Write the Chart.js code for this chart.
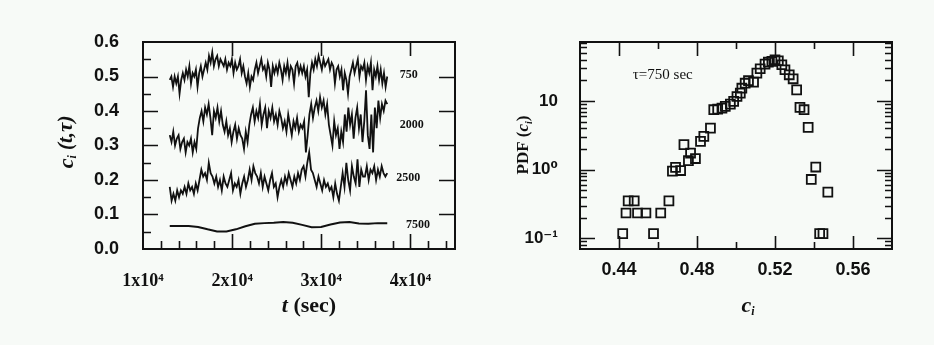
<!DOCTYPE html>
<html>
<head>
<meta charset="utf-8">
<script src="https://cdn.jsdelivr.net/npm/chart.js@4.4.1/dist/chart.umd.min.js"></script>
<style>
  html, body { margin: 0; padding: 0; background: #f7faf7; }
  #wrap { position: relative; width: 934px; height: 345px; overflow: hidden; background: #f7faf7; }
  canvas { position: absolute; top: 0; }
  #izq { left: 0; }
  #der { left: 480px; }
</style>
</head>
<body>
<div id="wrap">
  <canvas id="izq" width="480" height="345"></canvas>
  <canvas id="der" width="454" height="345"></canvas>
</div>
<script>
// ---- datos panel izquierdo: c_i(t, tau) ----
const tauLabels = ['750', '2000', '2500', '7500'];
const tFirst = 13000, tLast = 37400;
const c750 = [0.49,0.50,0.47,0.50,0.48,0.50,0.45,0.49,
  0.51,0.49,0.52,0.50,0.53,0.48,0.51,0.50,0.52,0.47,0.51,0.53,0.50,0.52,
  0.54,0.52,0.56,0.54,0.57,0.53,0.55,0.56,0.53,0.55,0.54,
  0.53,0.55,0.52,0.54,0.53,0.55,0.51,0.54,0.52,0.53,0.55,0.51,0.53,
  0.50,0.48,0.51,0.47,0.50,0.49,
  0.52,0.54,0.51,0.53,0.55,0.52,0.53,0.50,0.54,0.52,0.47,0.53,0.51,
  0.53,0.51,0.54,0.52,0.49,0.53,0.51,0.54,0.50,0.53,0.52,0.48,0.53,0.54,0.51,0.53,
  0.51,0.53,0.50,0.52,0.44,0.51,
  0.54,0.52,0.55,0.53,0.56,0.54,0.52,0.55,0.53,0.54,0.55,0.52,0.54,0.53,0.48,0.52,
  0.53,0.50,0.52,0.46,0.51,0.49,0.45,0.50,
  0.52,0.54,0.51,0.53,0.55,0.50,0.53,0.52,0.54,0.49,0.53,0.51,0.54,
  0.46,0.52,0.50,0.53,0.49,0.52,0.48,0.51,0.47,0.50];
const c2000 = [0.33,0.31,0.34,0.30,0.32,0.33,0.29,0.31,0.32,0.28,0.31,0.30,0.32,0.28,0.31,0.29,
  0.35,0.38,0.40,0.37,0.41,0.39,0.42,0.38,0.33,0.40,0.38,0.41,0.37,0.40,
  0.36,0.34,0.37,0.33,0.35,0.31,0.34,0.36,0.32,0.35,0.33,
  0.32,0.29,0.34,0.31,0.36,
  0.39,0.41,0.37,0.40,0.38,0.42,0.36,0.39,0.41,0.35,0.40,0.38,0.41,0.37,0.39,0.36,0.40,
  0.38,0.35,0.37,0.34,0.39,0.36,0.33,0.37,0.35,0.38,0.34,0.36,0.35,0.37,
  0.28,0.33,
  0.39,0.42,0.38,0.41,0.43,0.40,0.44,0.41,0.43,0.39,0.42,
  0.36,0.33,0.30,0.37,0.33,0.35,0.29,0.34,0.31,
  0.39,0.34,0.41,0.36,0.39,0.32,0.38,0.41,0.35,0.39,0.31,0.37,
  0.46,0.33,0.29,0.39,0.28,0.41,0.35,0.43,0.38,0.42,0.40,0.43,0.42];
const c2500 = [0.18,0.14,0.16,0.14,0.17,0.15,0.17,0.16,
  0.18,0.16,0.19,0.17,0.18,0.16,0.19,0.17,
  0.20,0.23,0.21,0.22,0.20,0.25,0.22,0.21,
  0.19,0.21,0.18,0.20,0.17,0.21,0.19,0.18,0.20,0.22,0.17,0.19,0.18,0.20,0.16,0.19,0.21,0.18,0.20,
  0.23,0.20,0.24,0.22,0.21,
  0.19,0.22,0.18,0.21,0.19,0.17,0.20,0.22,0.18,0.19,0.15,0.18,
  0.20,0.18,0.21,0.19,0.22,0.20,0.18,0.21,0.19,0.22,0.20,0.23,
  0.24,0.21,0.25,0.28,0.23,0.22,
  0.20,0.18,0.21,0.19,0.17,0.20,0.18,0.19,0.17,0.18,
  0.15,0.19,0.16,0.14,0.18,
  0.22,0.18,0.25,0.20,0.17,0.24,0.21,0.19,0.26,0.18,0.23,0.21,
  0.21,0.24,0.20,0.23,0.22,0.24,0.20,0.23,0.21,0.24,0.22,0.21,0.22];
const c7500 = [0.067,0.067,0.067,0.064,0.057,0.051,0.051,0.057,0.066,0.073,0.075,0.076,
  0.078,0.076,0.070,0.063,0.064,0.071,0.077,0.078,0.074,0.073,0.075,0.075];
const leftXTicks = [10000, 20000, 30000, 40000];
const leftXTickLabels = ['1x10⁴', '2x10⁴', '3x10⁴', '4x10⁴'];
const leftYTicks = [0, 0.1, 0.2, 0.3, 0.4, 0.5, 0.6];

// ---- datos panel derecho: PDF(c_i), tau = 750 s ----
const pdfC = [0.4419,0.4436,0.4447,0.4478,0.4495,0.4538,0.4577,0.4614,0.4656,0.4674,0.4690,0.4716,
  0.4733,0.4756,0.4767,0.4792,0.4818,0.4835,0.4869,0.4886,0.4906,0.4928,0.4945,0.4971,0.4988,
  0.5005,0.5022,0.5030,0.5047,0.5064,0.5090,0.5107,0.5124,0.5149,0.5166,0.5184,0.5200,0.5217,
  0.5235,0.5251,0.5273,0.5293,0.5311,0.5328,0.5349,0.5370,0.5386,0.5409,0.5429,0.5446,0.5471];
const pdfVal = [0.117,0.234,0.351,0.351,0.234,0.234,0.117,0.234,0.351,0.95,1.08,0.97,
  2.31,1.35,1.74,1.45,2.58,3.05,4.02,7.45,7.6,7.86,8.32,8.98,9.84,
  11.6,13.0,15.3,18.1,19.7,18.8,25.4,29.4,34.3,36.6,37.5,39.7,38.4,
  33.6,28.4,24.0,21.0,14.5,8.05,7.45,4.12,0.72,1.09,0.117,0.117,0.47];
const rightXTicks = [0.44, 0.48, 0.52, 0.56];
const rightYTicks = [0.1, 1, 10];
const rightYTickLabels = ['10⁻¹', '10⁰', '10'];

const tinta = '#111';
const serif = "'Liberation Serif', 'DejaVu Serif', serif";
const sans = "'Liberation Sans', 'DejaVu Sans', sans-serif";

function aPuntos(vals) {
  const paso = (tLast - tFirst) / (vals.length - 1);
  return vals.map((v, i) => ({x: tFirst + i * paso, y: v}));
}

// marco completo con marcas hacia adentro
const marco = {
  id: 'marco',
  afterDatasetsDraw(chart, args, opts) {
    const {ctx, chartArea: a, scales} = chart;
    ctx.save();
    ctx.strokeStyle = tinta;
    ctx.lineWidth = 1.6;
    ctx.beginPath();
    (opts.x || []).forEach(t => {
      const px = Math.round(scales.x.getPixelForValue(t.v)) + 0.5;
      if (t.bottom) { ctx.moveTo(px, a.bottom); ctx.lineTo(px, a.bottom - t.bottom); }
      if (t.top) { ctx.moveTo(px, a.top); ctx.lineTo(px, a.top + t.top); }
    });
    (opts.y || []).forEach(t => {
      const py = Math.round(scales.y.getPixelForValue(t.v)) + 0.5;
      if (t.left) { ctx.moveTo(a.left, py); ctx.lineTo(a.left + t.left, py); }
      if (t.right) { ctx.moveTo(a.right, py); ctx.lineTo(a.right - t.right, py); }
    });
    ctx.stroke();
    ctx.lineWidth = 2;
    ctx.strokeRect(a.left, a.top, a.right - a.left, a.bottom - a.top);
    ctx.restore();
  }
};

// texto con partes (cursiva, subindice)
function textoRico(ctx, partes, cx, cy, rot) {
  ctx.save();
  ctx.translate(cx, cy);
  if (rot) ctx.rotate(rot);
  let ancho = 0;
  partes.forEach(p => { ctx.font = p.f; ancho += ctx.measureText(p.t).width; });
  let x = -ancho / 2;
  ctx.fillStyle = tinta;
  ctx.textBaseline = 'middle';
  ctx.textAlign = 'left';
  partes.forEach(p => {
    ctx.font = p.f;
    ctx.fillText(p.t, x, p.dy || 0);
    x += ctx.measureText(p.t).width;
  });
  ctx.restore();
}

const textos = {
  id: 'textos',
  afterDraw(chart, args, opts) {
    const {ctx, scales} = chart;
    (opts.rich || []).forEach(r => textoRico(ctx, r.partes, r.x, r.y, r.rot));
    (opts.notas || []).forEach(n => {
      ctx.save();
      ctx.font = n.f;
      ctx.fillStyle = tinta;
      ctx.textAlign = 'left';
      ctx.textBaseline = 'middle';
      ctx.fillText(n.t, scales.x.getPixelForValue(n.x), scales.y.getPixelForValue(n.y));
      ctx.restore();
    });
  }
};

// marcas panel izquierdo
const izqX = [];
for (let v = 12000; v <= 44000; v += 2000) {
  const mayor = v % 10000 === 0;
  izqX.push({v, bottom: mayor ? 15 : 8, top: mayor ? 14 : 0});
}
const izqY = [];
for (let i = 1; i < 12; i++) {
  const mayor = i % 2 === 0;
  izqY.push({v: i * 0.05, left: mayor ? 15 : 8, right: mayor ? 16 : 0});
}

new Chart(document.getElementById('izq'), {
  type: 'line',
  data: {
    datasets: [c750, c2000, c2500, c7500].map((serie, k) => ({
      label: tauLabels[k],
      data: aPuntos(serie),
      borderColor: tinta,
      borderWidth: k === 3 ? 2 : 1.8,
      pointRadius: 0,
      tension: 0,
      fill: false
    }))
  },
  options: {
    responsive: false,
    animation: false,
    devicePixelRatio: 1,
    layout: {padding: {top: 42, right: 25, left: 0, bottom: 0}},
    plugins: {
      legend: {display: false},
      tooltip: {enabled: false},
      marco: {x: izqX, y: izqY},
      textos: {
        rich: [
          {x: 67, y: 142, rot: -Math.PI / 2, partes: [
            {t: 'c', f: `italic bold 22px ${serif}`},
            {t: 'i', f: `italic bold 12px ${serif}`, dy: 6},
            {t: ' (t,τ)', f: `italic bold 21px ${serif}`}]},
          {x: 309, y: 306, partes: [
            {t: 't', f: `italic bold 22px ${serif}`},
            {t: ' (sec)', f: `bold 22px ${serif}`}]}
        ],
        notas: [
          {t: tauLabels[0], x: 38800, y: 0.504, f: `bold 12px ${serif}`},
          {t: tauLabels[1], x: 38800, y: 0.359, f: `bold 12px ${serif}`},
          {t: tauLabels[2], x: 38400, y: 0.206, f: `bold 12px ${serif}`},
          {t: tauLabels[3], x: 39500, y: 0.070, f: `bold 12px ${serif}`}
        ]
      }
    },
    scales: {
      x: {
        type: 'linear', min: 10000, max: 45000,
        grid: {display: false}, border: {display: false},
        afterBuildTicks: s => { s.ticks = leftXTicks.map(v => ({value: v})); },
        afterFit: s => { s.height = 96; },
        ticks: {
          padding: 14, maxRotation: 0, color: tinta,
          font: {family: serif, size: 18, weight: 'bold'},
          callback: (v, i) => leftXTickLabels[i]
        }
      },
      y: {
        min: 0, max: 0.6,
        grid: {display: false}, border: {display: false},
        afterBuildTicks: s => { s.ticks = leftYTicks.map(v => ({value: v})); },
        afterFit: s => { s.width = 143; },
        ticks: {
          padding: 16, color: tinta,
          font: {family: sans, size: 18, weight: 'bold'},
          callback: v => v.toFixed(1)
        }
      }
    }
  },
  plugins: [marco, textos]
});

// marcas panel derecho
const derX = [];
for (let i = 1; i < 8; i++) {
  const mayor = i % 2 === 1;
  derX.push({v: 0.42 + i * 0.02, bottom: mayor ? 13 : 7, top: mayor ? 14 : 7});
}
const derY = [];
for (let k = -2; k <= 1; k++) {
  for (let m = 1; m <= 9; m++) {
    const v = m * Math.pow(10, k);
    if (v > 0.07 && v < 72) derY.push({v, left: m === 1 ? 15 : 7, right: m === 1 ? 15 : 7});
  }
}

new Chart(document.getElementById('der'), {
  type: 'scatter',
  data: {
    datasets: [{
      label: 'PDF',
      data: pdfC.map((c, i) => ({x: c, y: pdfVal[i]})),
      pointStyle: 'rect',
      pointRadius: 6.3,
      borderColor: tinta,
      borderWidth: 1.8,
      backgroundColor: 'rgba(0,0,0,0)'
    }]
  },
  options: {
    responsive: false,
    animation: false,
    devicePixelRatio: 1,
    layout: {padding: {top: 42, right: 42, left: 0, bottom: 0}},
    plugins: {
      legend: {display: false},
      tooltip: {enabled: false},
      marco: {x: derX, y: derY},
      textos: {
        rich: [
          {x: 44, y: 145, rot: -Math.PI / 2, partes: [
            {t: 'PDF (', f: `bold 17px ${serif}`},
            {t: 'c', f: `italic bold 17px ${serif}`},
            {t: 'i', f: `italic bold 10px ${serif}`, dy: 5},
            {t: ')', f: `bold 17px ${serif}`}]},
          {x: 268, y: 306, partes: [
            {t: 'c', f: `italic bold 22px ${serif}`},
            {t: 'i', f: `italic bold 12px ${serif}`, dy: 6}]}
        ],
        notas: [
          {t: 'τ=750 sec', x: 0.4471, y: 23.5, f: `15px ${serif}`}
        ]
      }
    },
    scales: {
      x: {
        type: 'linear', min: 0.42, max: 0.58,
        grid: {display: false}, border: {display: false},
        afterBuildTicks: s => { s.ticks = rightXTicks.map(v => ({value: v})); },
        afterFit: s => { s.height = 96; },
        ticks: {
          padding: 2, maxRotation: 0, color: tinta,
          font: {family: sans, size: 18, weight: 'bold'},
          callback: v => v.toFixed(2)
        }
      },
      y: {
        type: 'logarithmic', min: 0.07, max: 72,
        grid: {display: false}, border: {display: false},
        afterBuildTicks: s => { s.ticks = rightYTicks.map(v => ({value: v})); },
        afterFit: s => { s.width = 100; },
        ticks: {
          padding: 14, color: tinta,
          font: {family: sans, size: 17, weight: 'bold'},
          callback: (v, i) => rightYTickLabels[i]
        }
      }
    }
  },
  plugins: [marco, textos]
});
</script>
</body>
</html>
